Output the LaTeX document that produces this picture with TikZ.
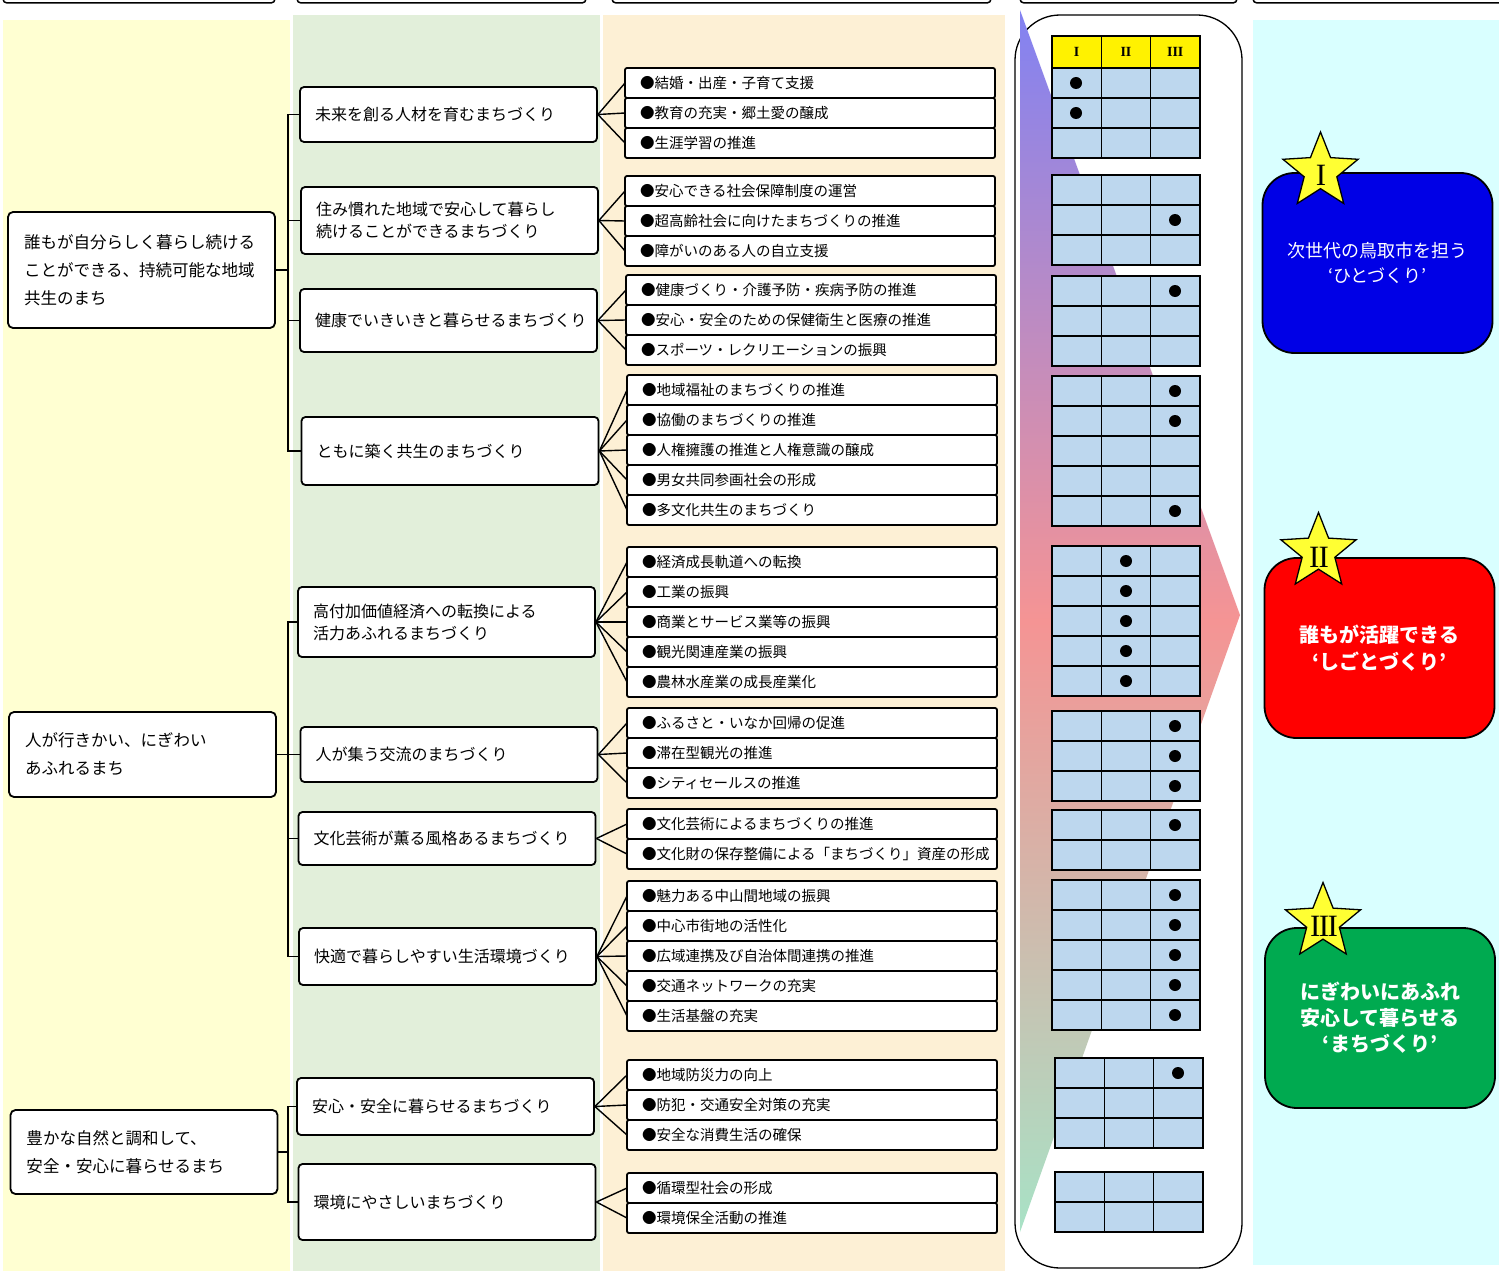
\documentclass[tikz,border=0pt]{standalone}
\usepackage{fontspec}
\setmainfont{Noto Sans CJK JP}
\newfontfamily\numfont{Liberation Serif}
\usetikzlibrary{positioning,shapes.geometric}
\definecolor{bandYellow}{HTML}{FFFFD2}
\definecolor{bandGreen}{HTML}{E2EFDA}
\definecolor{bandOrange}{HTML}{FDF0D5}
\definecolor{bandCyan}{HTML}{D9FFFF}
\definecolor{cellBlue}{HTML}{BDD7EE}
\definecolor{starYellow}{HTML}{FFFF33}
\definecolor{visionBlue}{HTML}{0000E6}
\definecolor{visionRed}{HTML}{FF0000}
\definecolor{visionGreen}{HTML}{00AA50}
\definecolor{flowBlue}{HTML}{8282F2}
\definecolor{flowPink}{HTML}{F59494}
\definecolor{flowGreen}{HTML}{A8E2C6}
\tikzset{
  goal/.style={draw, line width=1.8pt, rounded corners=5pt, fill=white,
    text width=235pt, inner xsep=16pt, align=left,
    font=\fontsize{16.5}{28}\selectfont},
  policy/.style={draw, line width=1.8pt, rounded corners=4pt, fill=white,
    text width=267pt, inner xsep=15pt, align=left,
    font=\fontsize{16}{22}\selectfont},
  measure/.style={draw, line width=1.8pt, rounded corners=2pt, fill=white,
    text width=340pt, inner xsep=15pt, inner ysep=0pt, minimum height=30pt,
    outer sep=0pt, align=left, font=\fontsize{14.5}{16}\selectfont},
  vision/.style={draw, line width=1.8pt, rounded corners=32pt, text=white,
    minimum width=230pt, minimum height=180pt, align=center},
  rank/.style={star, star points=5, star point ratio=2.3, minimum size=79pt,
    inner sep=0pt, draw, line width=1.3pt, fill=starYellow},
  ranknum/.style={inner sep=0pt, font=\numfont\fontsize{31}{31}\selectfont},
  headcell/.style={draw, line width=1.6pt, fill=yellow, minimum width=49.3pt,
    minimum height=32pt, inner sep=0pt, font=\numfont\fontsize{14}{14}\selectfont\bfseries},
  cell/.style={draw, line width=1.6pt, fill=cellBlue},
  link/.style={line width=1.4pt}
}
\newcommand{\markgrid}[3]{%
  \foreach \row in {1,...,#3}
    \foreach \col in {0,1,2}
      \draw[cell] (#1+\col*49.3,#2+\row*30-30) rectangle ++(49.3,30);
}

\begin{document}
\begin{tikzpicture}[x=1pt,y=-1pt]
  \useasboundingbox (0,0) rectangle (1499,1271);
  \clip (0,0) rectangle (1499,1271);
  \fill[white] (0,0) rectangle (1499,1271);
  \fill[bandYellow] (3,20) rectangle (290,1271);
  \fill[bandGreen] (293,15) rectangle (600,1271);
  \fill[bandOrange] (603,15) rectangle (1005,1271);
  \fill[bandCyan] (1253,20) rectangle (1499,1265);
  \foreach \xa/\xb in {3/275,297/586,612/991,1020/1237,1253/1520}
    \draw[line width=1.5pt, rounded corners=4pt] (\xa,-30) rectangle (\xb,3);

  \draw[line width=1.3pt, fill=white, rounded corners=45pt] (1015,15) rectangle (1242,1268);
  \shade[top color=flowBlue, bottom color=flowGreen, middle color=flowPink]
    (1020,10) -- (1240,615) -- (1020,1232) -- cycle;

  \foreach \col/\num in {0/I,1/II,2/III}
    \node[headcell] (Head\col) at (1076.65+\col*49.3,52) {\num};
  \markgrid{1052}{68}{3}
  \markgrid{1052}{175}{3}
  \markgrid{1052}{276}{3}
  \markgrid{1052}{376}{5}
  \markgrid{1052}{546}{5}
  \markgrid{1052}{711}{3}
  \markgrid{1052}{810}{2}
  \markgrid{1052}{880}{5}
  \markgrid{1055}{1058}{3}
  \markgrid{1055}{1172}{2}
  \foreach \dx/\dy in {1076/83,1076/113,1175/220,1175/291,1175/391,1175/421,1175/511,
      1126/561,1126/591,1126/621,1126/651,1126/681,1175/726,1175/756,1175/786,
      1175/825,1175/895,1175/925,1175/955,1175/985,1175/1015,1178/1073}
    \fill (\dx,\dy) circle (6pt);

  \node[goal, minimum height=116pt] (GoalA) at (141.5,270)
    {誰もが自分らしく暮らし続ける\\ことができる、持続可能な地域\\共生のまち};
  \node[goal, minimum height=85pt] (GoalB) at (142.5,754.5)
    {人が行きかい、にぎわい\\あふれるまち};
  \node[goal, minimum height=84pt] (GoalC) at (144,1152)
    {豊かな自然と調和して、\\安全・安心に暮らせるまち};

  \node[policy, minimum height=55pt] (PolA) at (448.5,114.5) {未来を創る人材を育むまちづくり};
  \node[policy, minimum height=67pt] (PolB) at (449.5,220.5) {住み慣れた地域で安心して暮らし\\続けることができるまちづくり};
  \node[policy, minimum height=63pt] (PolC) at (448.5,320.5) {健康でいきいきと暮らせるまちづくり};
  \node[policy, minimum height=68pt] (PolD) at (450,451) {ともに築く共生のまちづくり};
  \node[policy, minimum height=70pt] (PolE) at (446.5,622) {高付加価値経済への転換による\\活力あふれるまちづくり};
  \node[policy, minimum height=55pt] (PolF) at (449,754.5) {人が集う交流のまちづくり};
  \node[policy, minimum height=53pt] (PolG) at (447,838.5) {文化芸術が薫る風格あるまちづくり};
  \node[policy, minimum height=57pt] (PolH) at (447.5,956.5) {快適で暮らしやすい生活環境づくり};
  \node[policy, minimum height=57pt] (PolI) at (445.5,1106.5) {安心・安全に暮らせるまちづくり};
  \node[policy, minimum height=76pt] (PolJ) at (447,1202) {環境にやさしいまちづくり};

  \node[measure, anchor=north west] (MeasA1) at (625,68) {●結婚・出産・子育て支援};
  \node[measure, below=0pt of MeasA1] (MeasA2) {●教育の充実・郷土愛の醸成};
  \node[measure, below=0pt of MeasA2] (MeasA3) {●生涯学習の推進};
  \node[measure, anchor=north west] (MeasB1) at (625,176) {●安心できる社会保障制度の運営};
  \node[measure, below=0pt of MeasB1] (MeasB2) {●超高齢社会に向けたまちづくりの推進};
  \node[measure, below=0pt of MeasB2] (MeasB3) {●障がいのある人の自立支援};
  \node[measure, anchor=north west] (MeasC1) at (626,275) {●健康づくり・介護予防・疾病予防の推進};
  \node[measure, below=0pt of MeasC1] (MeasC2) {●安心・安全のための保健衛生と医療の推進};
  \node[measure, below=0pt of MeasC2] (MeasC3) {●スポーツ・レクリエーションの振興};
  \node[measure, anchor=north west] (MeasD1) at (627,375) {●地域福祉のまちづくりの推進};
  \node[measure, below=0pt of MeasD1] (MeasD2) {●協働のまちづくりの推進};
  \node[measure, below=0pt of MeasD2] (MeasD3) {●人権擁護の推進と人権意識の醸成};
  \node[measure, below=0pt of MeasD3] (MeasD4) {●男女共同参画社会の形成};
  \node[measure, below=0pt of MeasD4] (MeasD5) {●多文化共生のまちづくり};
  \node[measure, anchor=north west] (MeasE1) at (627,547) {●経済成長軌道への転換};
  \node[measure, below=0pt of MeasE1] (MeasE2) {●工業の振興};
  \node[measure, below=0pt of MeasE2] (MeasE3) {●商業とサービス業等の振興};
  \node[measure, below=0pt of MeasE3] (MeasE4) {●観光関連産業の振興};
  \node[measure, below=0pt of MeasE4] (MeasE5) {●農林水産業の成長産業化};
  \node[measure, anchor=north west] (MeasF1) at (627,708) {●ふるさと・いなか回帰の促進};
  \node[measure, below=0pt of MeasF1] (MeasF2) {●滞在型観光の推進};
  \node[measure, below=0pt of MeasF2] (MeasF3) {●シティセールスの推進};
  \node[measure, anchor=north west] (MeasG1) at (627,809) {●文化芸術によるまちづくりの推進};
  \node[measure, below=0pt of MeasG1] (MeasG2) {●文化財の保存整備による「まちづくり」資産の形成};
  \node[measure, anchor=north west] (MeasH1) at (627,881) {●魅力ある中山間地域の振興};
  \node[measure, below=0pt of MeasH1] (MeasH2) {●中心市街地の活性化};
  \node[measure, below=0pt of MeasH2] (MeasH3) {●広域連携及び自治体間連携の推進};
  \node[measure, below=0pt of MeasH3] (MeasH4) {●交通ネットワークの充実};
  \node[measure, below=0pt of MeasH4] (MeasH5) {●生活基盤の充実};
  \node[measure, anchor=north west] (MeasI1) at (627,1060) {●地域防災力の向上};
  \node[measure, below=0pt of MeasI1] (MeasI2) {●防犯・交通安全対策の充実};
  \node[measure, below=0pt of MeasI2] (MeasI3) {●安全な消費生活の確保};
  \node[measure, anchor=north west] (MeasJ1) at (627,1173) {●循環型社会の形成};
  \node[measure, below=0pt of MeasJ1] (MeasJ2) {●環境保全活動の推進};

  \node[vision, fill=visionBlue, font=\fontsize{18}{25}\selectfont] (VisA) at (1377.5,263)
    {次世代の鳥取市を担う\\‘ひとづくり’};
  \node[vision, fill=visionRed, font=\fontsize{20}{27}\selectfont\bfseries] (VisB) at (1379.5,648)
    {誰もが活躍できる\\‘しごとづくり’};
  \node[vision, fill=visionGreen, font=\fontsize{20}{26}\selectfont\bfseries] (VisC) at (1380,1018)
    {にぎわいにあふれ\\安心して暮らせる\\‘まちづくり’};
  \node[rank] (StarA) at (1320.5,171.5) {};
  \node[rank] (StarB) at (1318.5,552) {};
  \node[rank] (StarC) at (1323,922) {};
  \node[ranknum] (NumA) at (1321,175) {I};
  \node[ranknum] (NumB) at (1319,557) {I\kern-1ptI};
  \node[ranknum] (NumC) at (1324,926) {I\kern-1.5ptI\kern-1.5ptI};

  \coordinate (Trunk) at (288,0);
  \foreach \p in {PolA,PolB,PolC,PolD}
    \draw[link] (GoalA.east) -- (GoalA.east -| Trunk) |- (\p.west);
  \foreach \p in {PolE,PolF,PolG,PolH}
    \draw[link] (GoalB.east) -- (GoalB.east -| Trunk) |- (\p.west);
  \foreach \p in {PolI,PolJ}
    \draw[link] (GoalC.east) -- (GoalC.east -| Trunk) |- (\p.west);

  \foreach \m in {1,2,3} \draw[link] (PolA.east) -- (MeasA\m.west);
  \foreach \m in {1,2,3} \draw[link] (PolB.east) -- (MeasB\m.west);
  \foreach \m in {1,2,3} \draw[link] (PolC.east) -- (MeasC\m.west);
  \foreach \m in {1,...,5} \draw[link] (PolD.east) -- (MeasD\m.west);
  \foreach \m in {1,...,5} \draw[link] (PolE.east) -- (MeasE\m.west);
  \foreach \m in {1,2,3} \draw[link] (PolF.east) -- (MeasF\m.west);
  \foreach \m in {1,2} \draw[link] (PolG.east) -- (MeasG\m.west);
  \foreach \m in {1,...,5} \draw[link] (PolH.east) -- (MeasH\m.west);
  \foreach \m in {1,2,3} \draw[link] (PolI.east) -- (MeasI\m.west);
  \foreach \m in {1,2} \draw[link] (PolJ.east) -- (MeasJ\m.west);
\end{tikzpicture}
\end{document}
